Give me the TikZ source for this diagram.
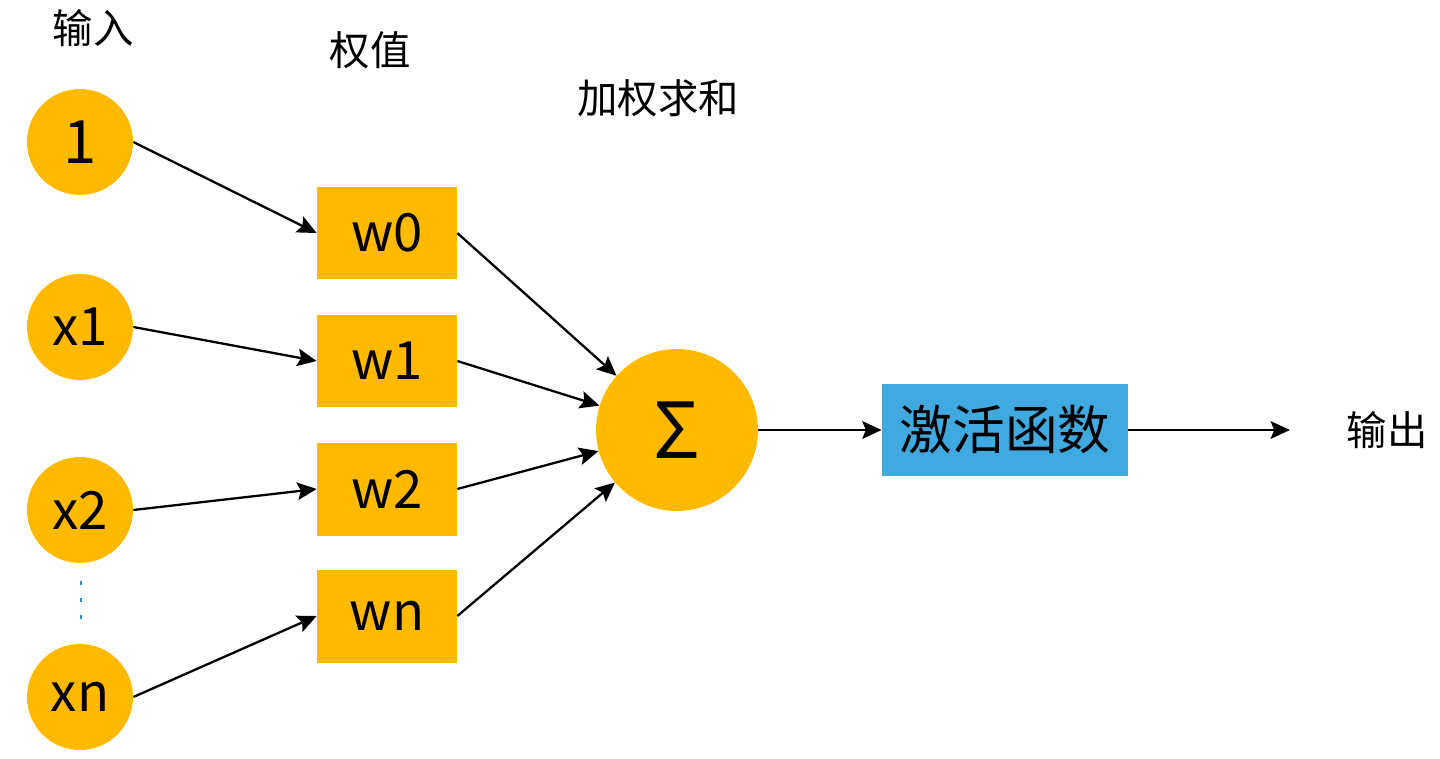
\documentclass[tikz,border=0pt]{standalone}
\usepackage{fontspec}
\setmainfont{Noto Sans CJK SC}
\usetikzlibrary{arrows.meta}
\definecolor{nodeyellow}{HTML}{FFBA00}
\definecolor{actblue}{HTML}{3FA9E0}
\definecolor{dotblue}{HTML}{2C87C3}

\begin{document}
\begin{tikzpicture}[x=0.02cm,y=-0.02cm,
	inp/.style={circle,fill=nodeyellow,minimum size=2.12cm,inner sep=0pt,font=\fontsize{30}{33}\selectfont},
	wbox/.style={rectangle,fill=nodeyellow,minimum width=2.8cm,minimum height=1.86cm,inner sep=0pt,font=\fontsize{30}{33}\selectfont},
	lbl/.style={font=\fontsize{23}{27}\selectfont},
	edge/.style={line width=1.3pt,-{Stealth[length=11pt,width=10pt,inset=2pt]}}]
	\useasboundingbox (0,0) rectangle (1440,758);
	\node[lbl] (tin) at (93,28){输入};
	\node[lbl] (tw) at (370,50){权值};
	\node[lbl] (tsum) at (658,98){加权求和};
	\node[inp,font=\fontsize{34}{37}\selectfont] (one) at (80,142){1};
	\node[inp] (x1) at (80,327){x1};
	\node[inp] (x2) at (80,510){x2};
	\node[inp] (xn) at (80,697){xn};
	\node[wbox] (w0) at (387,233){w0};
	\node[wbox] (w1) at (387,361){w1};
	\node[wbox] (w2) at (387,489){w2};
	\node[wbox] (wn) at (387,616){wn};
	\node[inp,minimum size=3.24cm,font=\fontsize{44}{48}\selectfont] (sum) at (677,430){Σ};
	\node[rectangle,fill=actblue,minimum width=4.92cm,minimum height=1.84cm,font=\fontsize{30}{34}\selectfont] (act) at (1005,430){激活函数};
	\node[lbl] (tout) at (1387,430){输出};
	\coordinate (outtip) at (1290,430);
	\coordinate (dtop) at (81,581);
	\coordinate (dbot) at (81,622);
	\draw [dotblue,line width=1.6pt,dash pattern=on 2.3pt off 7.4pt] (dtop) -- (dbot);
	\draw [edge] (one.east) -- (w0.west);
	\draw [edge] (x1.east) -- (w1.west);
	\draw [edge] (x2.east) -- (w2.west);
	\draw [edge] (xn.east) -- (wn.west);
	\draw [edge] (w0.east) -- (sum);
	\draw [edge] (w1.east) -- (sum);
	\draw [edge] (w2.east) -- (sum);
	\draw [edge] (wn.east) -- (sum);
	\draw [edge] (sum) -- (act);
	\draw [edge] (act) -- (outtip);
\end{tikzpicture}
\end{document}
